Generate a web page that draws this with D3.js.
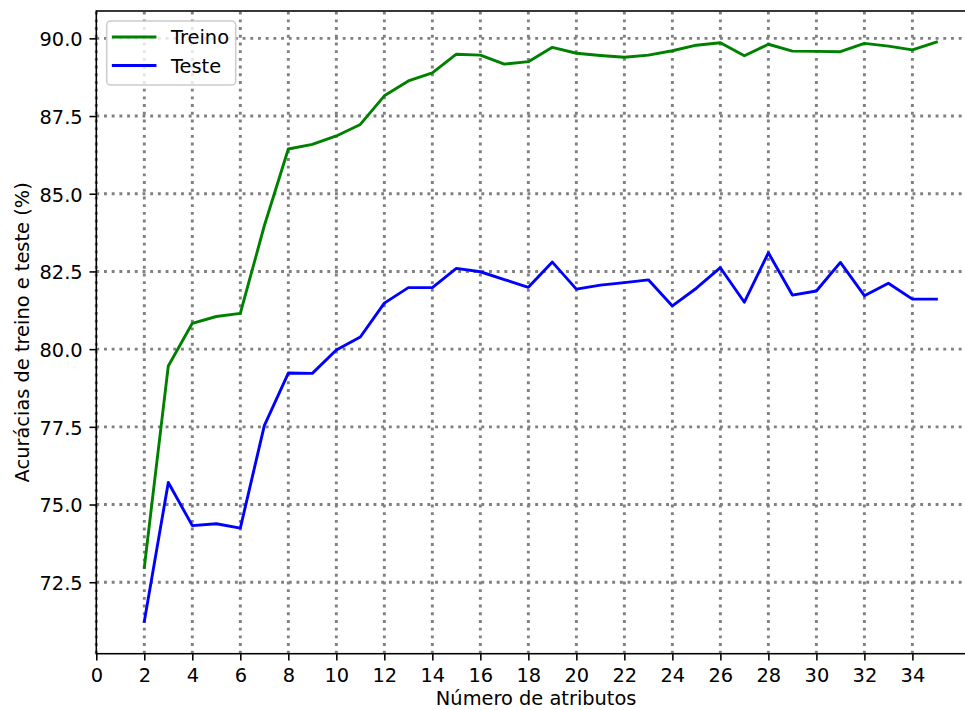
<!DOCTYPE html>
<html>
<head>
<meta charset="utf-8">
<script src="https://cdn.jsdelivr.net/npm/d3@7"></script>
<style>
  html, body { margin: 0; padding: 0; background: #fff; }
  svg { display: block; font-family: "DejaVu Sans", sans-serif; }
</style>
</head>
<body>
<svg id="chart" width="965" height="710"></svg>
<script>
// Number of attributes used by the model
const atributos = d3.range(2, 36);

// Training accuracy (%) per number of attributes
const treino = [72.98, 79.46, 80.83, 81.05, 81.15, 83.97, 86.44, 86.59, 86.86, 87.23,
                88.15, 88.63, 88.89, 89.49, 89.46, 89.17, 89.25, 89.71, 89.52, 89.45,
                89.39, 89.46, 89.60, 89.78, 89.86, 89.44, 89.81, 89.59, 89.58, 89.57,
                89.84, 89.75, 89.63, 89.88];

// Test accuracy (%) per number of attributes
const teste = [71.24, 75.71, 74.32, 74.38, 74.24, 77.54, 79.23, 79.22, 79.97, 80.39,
               81.48, 81.98, 81.98, 82.60, 82.49, 82.24, 81.99, 82.80, 81.93, 82.06,
               82.14, 82.23, 81.39, 81.96, 82.62, 81.51, 83.10, 81.74, 81.87, 82.79,
               81.72, 82.12, 81.61, 81.61];

// Tick values
const xTicks = d3.range(0, 35, 2);
const yTicks = [72.5, 75.0, 77.5, 80.0, 82.5, 85.0, 87.5, 90.0];

const series = [
  { nome: "Treino", valores: treino, cor: "#008000" },
  { nome: "Teste",  valores: teste,  cor: "#0000ff" }
];

const svg = d3.select("#chart");
const FS = 19.4;
const plotL = 96.3, plotR = 976, plotT = 11, plotB = 653.7;

const x = d3.scaleLinear().domain([0, 36.65]).range([plotL, plotR]);
const y = d3.scaleLinear().domain([70.2, 90.88]).range([plotB, plotT]);

// Dotted grid
const grid = svg.append("g")
  .attr("stroke", "#808080")
  .attr("stroke-width", 2.9)
  .attr("stroke-dasharray", "2.9 4.8")
  .attr("fill", "none");
grid.selectAll("line.gx").data(xTicks).join("line")
  .attr("class", "gx")
  .attr("x1", d => x(d)).attr("x2", d => x(d))
  .attr("y1", plotB).attr("y2", plotT);
grid.selectAll("line.gy").data(yTicks).join("line")
  .attr("class", "gy")
  .attr("y1", d => y(d)).attr("y2", d => y(d))
  .attr("x1", plotL).attr("x2", plotR);

// Series lines
const line = d3.line()
  .x((d, i) => x(atributos[i]))
  .y(d => y(d));
svg.append("g").selectAll("path").data(series).join("path")
  .attr("d", d => line(d.valores))
  .attr("fill", "none")
  .attr("stroke", d => d.cor)
  .attr("stroke-width", 2.9)
  .attr("stroke-linejoin", "round")
  .attr("stroke-linecap", "square");

// Axes
const xAxis = d3.axisBottom(x).tickValues(xTicks).tickFormat(d3.format("d"))
  .tickSizeInner(6.8).tickSizeOuter(0).tickPadding(6.8);
const yAxis = d3.axisLeft(y).tickValues(yTicks).tickFormat(d3.format(".1f"))
  .tickSizeInner(6.8).tickSizeOuter(0).tickPadding(6.8);

const gx = svg.append("g").attr("transform", `translate(0,${plotB})`).call(xAxis);
const gy = svg.append("g").attr("transform", `translate(${plotL},0)`).call(yAxis);

[gx, gy].forEach(g => {
  g.select(".domain").remove();
  g.selectAll(".tick line").attr("stroke", "#000").attr("stroke-width", 1.56);
  g.selectAll(".tick text")
    .attr("fill", "#000")
    .attr("font-family", "DejaVu Sans")
    .attr("font-size", FS);
});
gx.selectAll(".tick text").attr("dy", "0.76em");
gy.selectAll(".tick text").attr("dy", "0.38em");

// Spines
svg.append("rect")
  .attr("x", plotL).attr("y", plotT)
  .attr("width", plotR - plotL).attr("height", plotB - plotT)
  .attr("fill", "none").attr("stroke", "#000").attr("stroke-width", 1.56);

// Axis titles
svg.append("text")
  .attr("x", (plotL + plotR) / 2).attr("y", 705)
  .attr("text-anchor", "middle").attr("font-size", FS)
  .text("Número de atributos");
svg.append("text")
  .attr("transform", `translate(29,${(plotT + plotB) / 2}) rotate(-90)`)
  .attr("text-anchor", "middle").attr("font-size", FS)
  .text("Acurácias de treino e teste (%)");

// Legend
const leg = svg.append("g");
leg.append("rect")
  .attr("x", 106.7).attr("y", 21).attr("width", 129).attr("height", 64)
  .attr("rx", 4).attr("ry", 4)
  .attr("fill", "#fff").attr("fill-opacity", 0.8)
  .attr("stroke", "#cccccc").attr("stroke-width", 1.56);
const items = leg.selectAll("g.item").data(series).join("g")
  .attr("class", "item")
  .attr("transform", (d, i) => `translate(0,${37 + i * 28.5})`);
items.append("line")
  .attr("x1", 113.3).attr("x2", 155)
  .attr("stroke", d => d.cor).attr("stroke-width", 2.9)
  .attr("stroke-linecap", "square");
items.append("text")
  .attr("x", 171).attr("y", 7)
  .attr("font-size", FS)
  .text(d => d.nome);
</script>
</body>
</html>
